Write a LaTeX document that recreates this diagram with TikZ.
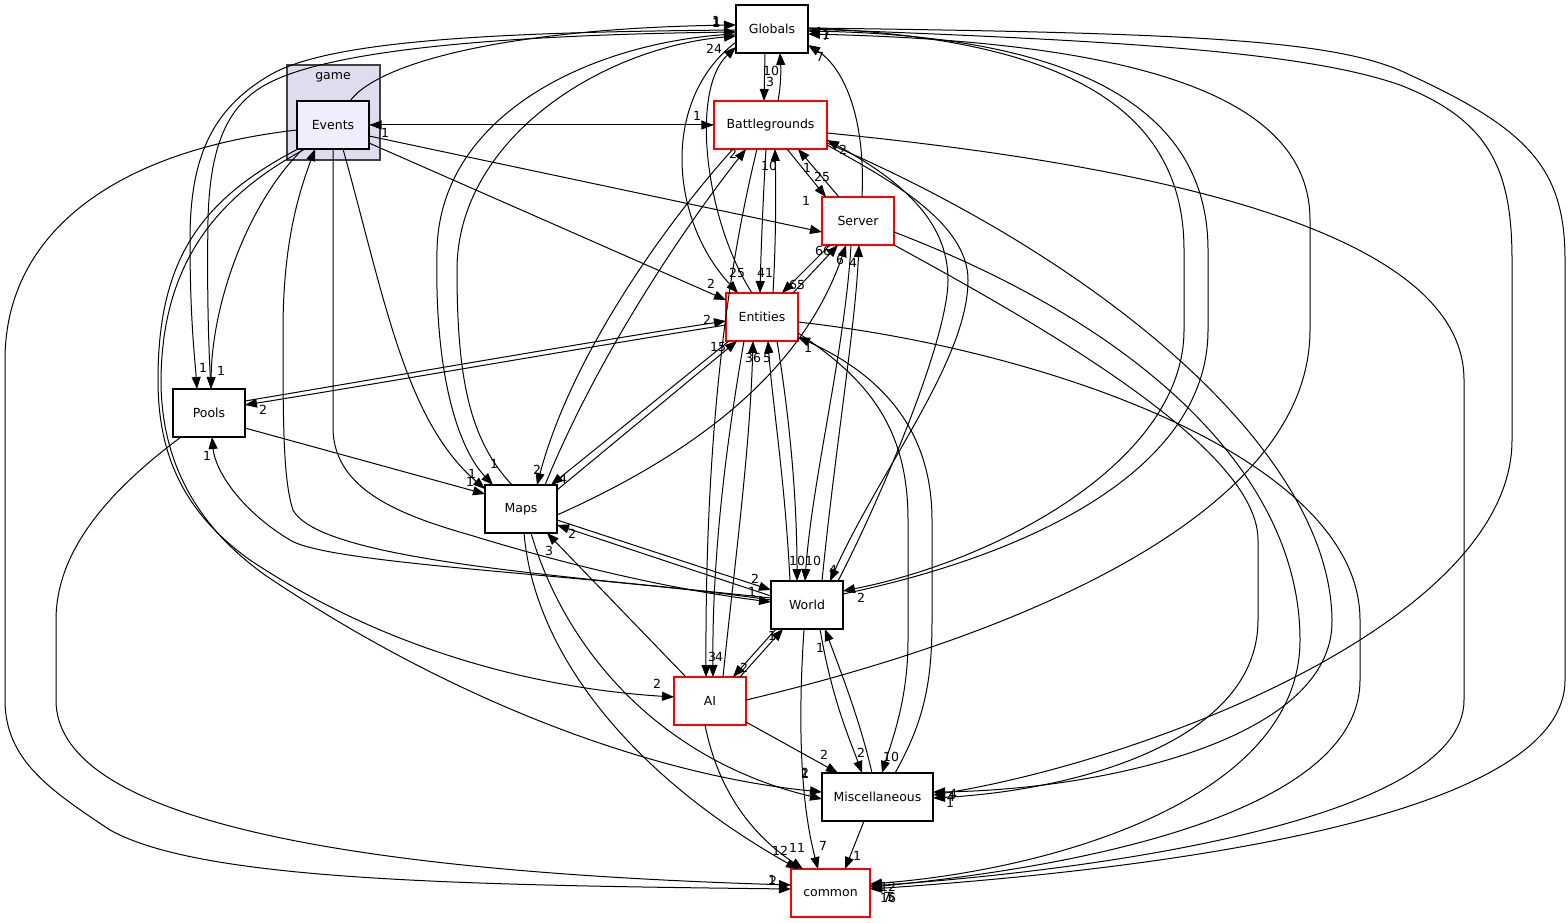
\documentclass[tikz,border=0pt]{standalone}
\usepackage{fontspec}
\setmainfont{DejaVu Sans}
\usetikzlibrary{arrows.meta,calc}
\definecolor{clfill}{HTML}{DDDDEE}
\definecolor{evfill}{HTML}{EEEEFF}
\definecolor{clborder}{HTML}{404040}
\tikzset{
 dirbox/.style={draw=black, line width=1.1pt, minimum width=72pt, minimum height=48pt, inner sep=0pt, font=\fontsize{12.5}{15}\selectfont, fill=white},
 reddir/.style={dirbox, draw=red},
 dep/.style={draw=black, line width=1pt, -{Triangle[length=12pt,width=9pt]}},
 lbl/.style={font=\fontsize{12.5}{14}\selectfont, inner sep=0pt},
}
\begin{document}
\begin{tikzpicture}[x=1pt,y=-1pt]
\useasboundingbox (0,0) rectangle (1568,923);
\fill[white] (0,0) rectangle (1568,923);
% cluster
\node[draw=clborder, fill=clfill, line width=1.2pt, minimum width=93pt, minimum height=95pt, inner sep=0pt] (game) at (333.5,112.5) {};
\node[font=\fontsize{12.5}{15}\selectfont, inner sep=0pt] (gamelbl) at (333,77) {game};
% nodes
\node[dirbox] (glob) at (772,29) {Globals};
\node[reddir, minimum width=113pt] (bg) at (770.5,125) {Battlegrounds};
\node[dirbox, fill=evfill] (ev) at (333,125) {Events};
\node[reddir] (srv) at (858,221) {Server};
\node[reddir] (ent) at (762,317) {Entities};
\node[dirbox] (pools) at (209,413) {Pools};
\node[dirbox] (maps) at (521,509) {Maps};
\node[dirbox] (world) at (807,605) {World};
\node[reddir] (ai) at (710,701) {AI};
\node[dirbox, minimum width=111pt] (misc) at (877.5,797) {Miscellaneous};
\node[reddir, minimum width=79pt] (common) at (830.5,893) {common};

% edges
\draw[dep] ([shift={(17,-24)}]ev.center) .. controls (380,60) and (520,28) .. ([shift={(-36,-4)}]glob.center);
\draw[dep] ([shift={(-36,1)}]glob.center) .. controls (500,32) and (330,40) .. (270,75) .. controls (210,110) and (190,160) .. (190,240) .. controls (190,320) and (195,360) .. ([shift={(-12,-24)}]pools.center);
\draw[dep] ([shift={(2,-24)}]pools.center) .. controls (208,340) and (207,280) .. (208,220) .. controls (210,140) and (230,100) .. (275,80) .. controls (340,50) and (500,35) .. ([shift={(-36,3)}]glob.center);
\draw[dep] ([shift={(-30,24)}]ev.center) .. controls (250,200) and (212,300) .. ([shift={(2,-24)}]pools.center);
\draw[dep] ([shift={(-36,5)}]glob.center) .. controls (600,40) and (440,110) .. (437,250) .. controls (434,380) and (460,450) .. ([shift={(-28,-24)}]maps.center);
\draw[dep] ([shift={(-9,-24)}]maps.center) .. controls (470,440) and (457,380) .. (457,270) .. controls (457,140) and (600,48) .. ([shift={(-36,7)}]glob.center);
\draw[dep] ([shift={(-10,-24)}]ent.center) .. controls (705,220) and (690,90) .. ([shift={(-36,18)}]glob.center);
\draw[dep] ([shift={(-36,13)}]glob.center) .. controls (660,100) and (670,220) .. ([shift={(-24,-24)}]ent.center);
\draw[dep] ([shift={(-7,24)}]glob.center) -- ([shift={(-6.5,-24)}]bg.center);
\draw[dep] ([shift={(7.5,-24)}]bg.center) .. controls (781,85) and (781,70) .. ([shift={(8,24)}]glob.center);
\draw[dep] (ev.east) -- (bg.west);
\draw[dep] (bg.west) -- (ev.east);
\draw[dep] ([shift={(36,11)}]ev.center) -- ([shift={(-36,11)}]srv.center);
\draw[dep] ([shift={(36,18)}]ev.center) -- ([shift={(-36,-17)}]ent.center);
\draw[dep] ([shift={(4,-24)}]srv.center) .. controls (866,110) and (840,65) .. ([shift={(36,16)}]glob.center);
\draw[dep] ([shift={(16.5,24)}]bg.center) -- ([shift={(-32,-24)}]srv.center);
\draw[dep] ([shift={(-19,-24)}]srv.center) -- ([shift={(27.5,24)}]bg.center);
\draw[dep] ([shift={(-4.5,24)}]bg.center) .. controls (763,200) and (761,250) .. ([shift={(-2,-24)}]ent.center);
\draw[dep] ([shift={(11,-24)}]ent.center) .. controls (776,240) and (776,190) .. ([shift={(4.5,24)}]bg.center);
\draw[dep] ([shift={(24,-24)}]maps.center) .. controls (600,350) and (690,220) .. ([shift={(-24.5,24)}]bg.center);
\draw[dep] ([shift={(-37.5,24)}]bg.center) .. controls (660,230) and (570,360) .. ([shift={(16,-24)}]maps.center);
\draw[dep] ([shift={(-13.5,24)}]bg.center) .. controls (730,260) and (705,420) .. ([shift={(-4,-24)}]ai.center);
\draw[dep] ([shift={(-18,24)}]ent.center) .. controls (725,450) and (712,560) .. ([shift={(3,-24)}]ai.center);
\draw[dep] ([shift={(13,-24)}]ai.center) .. controls (735,560) and (750,450) .. ([shift={(-9,24)}]ent.center);
\draw[dep] ([shift={(-17,-24)}]world.center) .. controls (785,480) and (772,400) .. ([shift={(6,24)}]ent.center);
\draw[dep] ([shift={(15,24)}]ent.center) .. controls (790,420) and (797,500) .. ([shift={(-10,-24)}]world.center);
\draw[dep] ([shift={(31,-24)}]ent.center) -- ([shift={(-20,24)}]srv.center);
\draw[dep] ([shift={(-28,24)}]srv.center) -- ([shift={(20,-24)}]ent.center);
\draw[dep] ([shift={(36,6)}]maps.center) .. controls (680,460) and (800,380) .. ([shift={(-12,24)}]srv.center);
\draw[dep] ([shift={(15,-24)}]world.center) .. controls (835,450) and (855,330) .. ([shift={(1,24)}]srv.center);
\draw[dep] ([shift={(-7,24)}]srv.center) .. controls (845,350) and (812,480) .. ([shift={(-2,-24)}]world.center);
\draw[dep] ([shift={(31,-24)}]world.center) .. controls (880,500) and (948,340) .. (948,280) .. controls (948,220) and (900,180) .. ([shift={(56.5,15)}]bg.center);
\draw[dep] ([shift={(56.5,20)}]bg.center) .. controls (880,175) and (968,220) .. (968,280) .. controls (968,360) and (880,470) .. ([shift={(23,-24)}]world.center);
\draw[dep] ([shift={(36,-12)}]pools.center) .. controls (400,375) and (600,340) .. ([shift={(-36,4)}]ent.center);
\draw[dep] ([shift={(-36,8)}]ent.center) .. controls (600,345) and (400,380) .. ([shift={(36,-8)}]pools.center);
\draw[dep] ([shift={(36,-19)}]maps.center) -- ([shift={(-25,24)}]ent.center);
\draw[dep] ([shift={(-33,24)}]ent.center) -- ([shift={(30,-24)}]maps.center);
\draw[dep] ([shift={(36,11)}]maps.center) -- ([shift={(-36,-15)}]world.center);
\draw[dep] ([shift={(-36,-9)}]world.center) -- ([shift={(36,16)}]maps.center);
\draw[dep] ([shift={(36,15)}]pools.center) -- ([shift={(-36,-15)}]maps.center);
\draw[dep] ([shift={(10,24)}]ev.center) .. controls (385,300) and (405,420) .. ([shift={(-36,-20)}]maps.center);
\draw[dep] ([shift={(-36,-5)}]world.center) .. controls (600,575) and (330,565) .. (290,540) .. controls (240,510) and (215,470) .. ([shift={(3,24)}]pools.center);
\draw[dep] ([shift={(-36,-7)}]world.center) .. controls (560,575) and (320,560) .. (293,510) .. controls (283,480) and (283,420) .. (283,330) .. controls (283,240) and (300,190) .. ([shift={(-18,24)}]ev.center);
\draw[dep] (ev.south) -- (333,430) .. controls (335,490) and (400,515) .. (470,535) .. controls (600,575) and (700,593) .. ([shift={(-36,-3)}]world.center);
\draw[dep] ([shift={(-35,24)}]ev.center) .. controls (200,200) and (158,260) .. (158,380) .. controls (158,450) and (180,510) .. (250,560) .. controls (400,660) and (560,690) .. ([shift={(-36,-4)}]ai.center);
\draw[dep] ([shift={(-28,24)}]ev.center) .. controls (210,200) and (162,270) .. (161,380) .. controls (161,460) and (195,525) .. (265,575) .. controls (450,700) and (650,775) .. ([shift={(-55.5,-5)}]misc.center);
\draw[dep] ([shift={(-36,5)}]ev.center) .. controls (120,150) and (5,230) .. (5,360) -- (5,700) .. controls (5,760) and (50,790) .. (110,830) .. controls (200,880) and (450,885) .. ([shift={(-39.5,-4)}]common.center);
\draw[dep] ([shift={(-28,24)}]pools.center) .. controls (110,490) and (56,550) .. (56,620) -- (56,700) .. controls (56,810) and (300,870) .. ([shift={(-39.5,-8)}]common.center);
\draw[dep] ([shift={(3,24)}]maps.center) .. controls (535,660) and (640,780) .. ([shift={(-32.5,-24)}]common.center);
\draw[dep] ([shift={(10,24)}]maps.center) .. controls (565,650) and (660,760) .. ([shift={(-55.5,2)}]misc.center);
\draw[dep] ([shift={(-24,-24)}]ai.center) -- ([shift={(26,24)}]maps.center);
\draw[dep] ([shift={(30,-24)}]ai.center) -- ([shift={(-24,24)}]world.center);
\draw[dep] ([shift={(-31,24)}]world.center) -- ([shift={(23,-24)}]ai.center);
\draw[dep] ([shift={(36,21)}]ai.center) -- ([shift={(-39.5,-24)}]misc.center);
\draw[dep] ([shift={(-5,24)}]ai.center) .. controls (720,800) and (760,840) .. ([shift={(-27.5,-24)}]common.center);
\draw[dep] ([shift={(-3,24)}]world.center) .. controls (798,720) and (800,800) .. ([shift={(-12.5,-24)}]common.center);
\draw[dep] ([shift={(13,24)}]world.center) .. controls (832,700) and (850,740) .. ([shift={(-15.5,-24)}]misc.center);
\draw[dep] ([shift={(-5.5,-24)}]misc.center) .. controls (860,720) and (840,670) .. ([shift={(18,24)}]world.center);
\draw[dep] ([shift={(36,16)}]ent.center) .. controls (870,380) and (908,430) .. (908,520) -- (908,640) .. controls (908,700) and (892,740) .. ([shift={(4.5,-24)}]misc.center);
\draw[dep] ([shift={(17.5,-24)}]misc.center) .. controls (925,720) and (932,680) .. (932,620) -- (932,520) .. controls (932,420) and (870,370) .. ([shift={(36,20)}]ent.center);
\draw[dep] ([shift={(-13.5,24)}]misc.center) -- ([shift={(14.5,-24)}]common.center);
\draw[dep] ([shift={(36,-1)}]glob.center) .. controls (1050,38) and (1184,100) .. (1184,250) -- (1184,330) .. controls (1184,460) and (1000,560) .. ([shift={(36,-14)}]world.center);
\draw[dep] ([shift={(36,-11)}]world.center) .. controls (1030,555) and (1208,470) .. (1208,330) -- (1208,250) .. controls (1208,100) and (1060,36) .. ([shift={(36,2)}]glob.center);
\draw[dep] ([shift={(36,-1)}]ai.center) .. controls (1000,640) and (1310,520) .. (1310,330) -- (1310,220) .. controls (1310,100) and (1150,42) .. ([shift={(36,5)}]glob.center);
\draw[dep] (glob.east) .. controls (1100,40) and (1300,50) .. (1400,85) .. controls (1490,120) and (1512,170) .. (1512,260) -- (1512,440) .. controls (1512,620) and (1150,760) .. ([shift={(55.5,-2)}]misc.center);
\draw[dep] ([shift={(36,-1)}]glob.center) .. controls (1200,33) and (1340,40) .. (1410,75) .. controls (1530,130) and (1565,170) .. (1565,260) -- (1565,680) .. controls (1565,820) and (1150,870) .. ([shift={(39.5,-4)}]common.center);
\draw[dep] ([shift={(56.5,8)}]bg.center) .. controls (1150,165) and (1464,230) .. (1464,380) -- (1464,700) .. controls (1464,820) and (1100,870) .. ([shift={(39.5,-7)}]common.center);
\draw[dep] ([shift={(56.5,18)}]bg.center) .. controls (1100,260) and (1330,450) .. (1332,620) .. controls (1334,740) and (1100,790) .. ([shift={(55.5,-5)}]misc.center);
\draw[dep] ([shift={(36,24)}]srv.center) .. controls (1050,330) and (1258,450) .. (1258,540) -- (1258,620) .. controls (1258,740) and (1080,790) .. ([shift={(55.5,1)}]misc.center);
\draw[dep] ([shift={(36,11)}]srv.center) .. controls (1150,330) and (1300,480) .. (1300,640) .. controls (1300,800) and (1050,870) .. ([shift={(39.5,-9)}]common.center);
\draw[dep] ([shift={(36,5)}]ent.center) .. controls (1050,350) and (1360,460) .. (1360,620) -- (1360,680) .. controls (1360,820) and (1050,870) .. ([shift={(39.5,-6)}]common.center);

% labels
\node[lbl] (t1) at (716,21) {1};
\node[lbl] (t2) at (717,22) {1};
\node[lbl] (t3) at (716,23) {1};
\node[lbl] (t4) at (714,49) {24};
\node[lbl] (t5) at (826,35) {1};
\node[lbl] (t6) at (826,36) {7};
\node[lbl] (t7) at (820,57) {7};
\node[lbl] (t8) at (771,71) {10};
\node[lbl] (t9) at (770,82) {3};
\node[lbl] (t10) at (697,116) {1};
\node[lbl] (t11) at (385,133) {1};
\node[lbl] (t12) at (733,154) {2};
\node[lbl] (t13) at (769,166) {10};
\node[lbl] (t14) at (807,168) {1};
\node[lbl] (t15) at (822,177) {25};
\node[lbl] (t16) at (843,150) {2};
\node[lbl] (t17) at (806,201) {1};
\node[lbl] (t18) at (737,273) {25};
\node[lbl] (t19) at (765,273) {41};
\node[lbl] (t20) at (797,285) {65};
\node[lbl] (t21) at (711,284) {2};
\node[lbl] (t22) at (707,320) {2};
\node[lbl] (t23) at (718,347) {15};
\node[lbl] (t24) at (753,358) {36};
\node[lbl] (t25) at (767,358) {5};
\node[lbl] (t26) at (808,348) {1};
\node[lbl] (t27) at (823,251) {66};
\node[lbl] (t28) at (840,260) {6};
\node[lbl] (t29) at (853,263) {4};
\node[lbl] (t30) at (203,368) {1};
\node[lbl] (t31) at (221,371) {1};
\node[lbl] (t32) at (263,410) {2};
\node[lbl] (t33) at (207,456) {1};
\node[lbl] (t34) at (494,464) {1};
\node[lbl] (t35) at (537,470) {2};
\node[lbl] (t36) at (563,479) {4};
\node[lbl] (t37) at (472,474) {1};
\node[lbl] (t38) at (470,482) {1};
\node[lbl] (t39) at (572,534) {2};
\node[lbl] (t40) at (549,551) {3};
\node[lbl] (t41) at (797,561) {10};
\node[lbl] (t42) at (813,561) {10};
\node[lbl] (t43) at (833,570) {4};
\node[lbl] (t44) at (755,579) {2};
\node[lbl] (t45) at (752,592) {1};
\node[lbl] (t46) at (861,598) {2};
\node[lbl] (t47) at (772,636) {1};
\node[lbl] (t48) at (820,648) {1};
\node[lbl] (t49) at (657,684) {2};
\node[lbl] (t50) at (712,657) {3};
\node[lbl] (t51) at (719,657) {4};
\node[lbl] (t52) at (744,668) {2};
\node[lbl] (t53) at (824,755) {2};
\node[lbl] (t54) at (861,753) {2};
\node[lbl] (t55) at (891,757) {10};
\node[lbl] (t56) at (805,773) {2};
\node[lbl] (t57) at (805,774) {1};
\node[lbl] (t58) at (953,794) {4};
\node[lbl] (t59) at (951,797) {4};
\node[lbl] (t60) at (950,803) {1};
\node[lbl] (t61) at (857,856) {1};
\node[lbl] (t62) at (780,851) {12};
\node[lbl] (t63) at (797,848) {11};
\node[lbl] (t64) at (823,846) {7};
\node[lbl] (t65) at (772,880) {1};
\node[lbl] (t66) at (773,881) {2};
\node[lbl] (t67) at (888,887) {12};
\node[lbl] (t68) at (887,897) {7};
\node[lbl] (t69) at (888,898) {16};
\node[lbl] (t70) at (891,897) {5};
\end{tikzpicture}
\end{document}
